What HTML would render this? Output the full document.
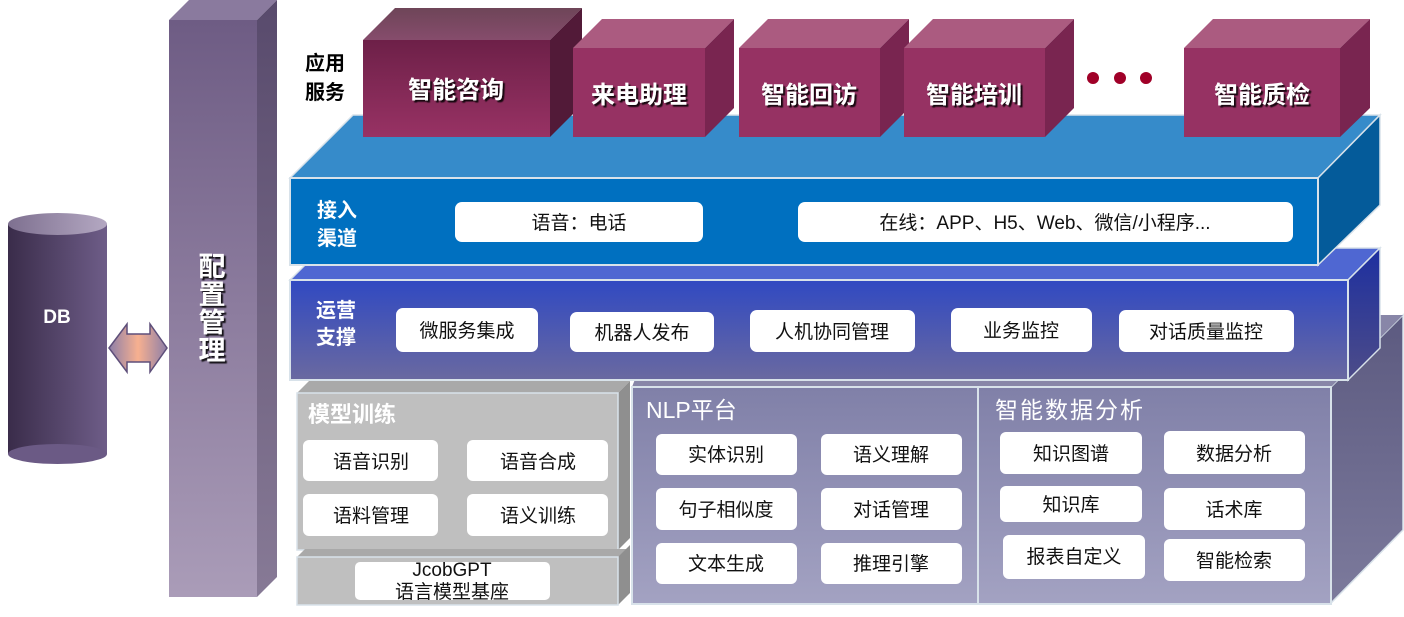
<!DOCTYPE html>
<html><head><meta charset="utf-8"><style>
html,body{margin:0;padding:0;background:#fff;}
svg{display:block;}
text{font-family:"Liberation Sans","Noto Sans CJK SC",sans-serif;}
.bx{fill:#fff;}
.t{font-size:19px;fill:#111;text-anchor:middle;}
.ap{font-size:24px;font-weight:bold;fill:#fff;text-anchor:middle;filter:url(#sh);}
.lb{font-size:20px;font-weight:bold;fill:#fff;}
.ttl{font-size:23px;fill:#fff;}
</style></head><body>
<svg width="1404" height="617" viewBox="0 0 1404 617" xmlns="http://www.w3.org/2000/svg">
<defs>
<filter id="sh" x="-10%" y="-10%" width="130%" height="140%"><feDropShadow dx="2" dy="2" stdDeviation="0.6" flood-color="#000" flood-opacity="0.85"/></filter>
<linearGradient id="pil" x1="0" y1="0" x2="0" y2="1"><stop offset="0" stop-color="#6e5c84"/><stop offset="1" stop-color="#aa9cb8"/></linearGradient>
<linearGradient id="pils" x1="0" y1="0" x2="0" y2="1"><stop offset="0" stop-color="#584a6c"/><stop offset="1" stop-color="#877a96"/></linearGradient>
<linearGradient id="db" x1="0" y1="0" x2="1" y2="0"><stop offset="0" stop-color="#3a2c4a"/><stop offset="1" stop-color="#6e5d88"/></linearGradient>
<linearGradient id="dbt" x1="0" y1="0" x2="1" y2="0"><stop offset="0" stop-color="#7e7090"/><stop offset="1" stop-color="#b4a8c2"/></linearGradient>
<linearGradient id="arr" x1="0" y1="0" x2="1" y2="0"><stop offset="0" stop-color="#8d7fa8"/><stop offset="0.5" stop-color="#f7b090"/><stop offset="1" stop-color="#8d7fa8"/></linearGradient>
<linearGradient id="app1" x1="0" y1="0" x2="0" y2="1"><stop offset="0" stop-color="#6d2048"/><stop offset="1" stop-color="#983264"/></linearGradient>
<linearGradient id="app1t" x1="0" y1="0" x2="0" y2="1"><stop offset="0" stop-color="#6e4558"/><stop offset="1" stop-color="#864c6c"/></linearGradient>
<linearGradient id="pur" x1="0" y1="0" x2="0" y2="1"><stop offset="0" stop-color="#3049c2"/><stop offset="1" stop-color="#6a69a0"/></linearGradient>
<linearGradient id="purs" x1="0" y1="0" x2="0" y2="1"><stop offset="0" stop-color="#1d2fa0"/><stop offset="1" stop-color="#4d4c88"/></linearGradient>
<linearGradient id="bot" x1="0" y1="0" x2="0" y2="1"><stop offset="0" stop-color="#8080a8"/><stop offset="1" stop-color="#a3a2c2"/></linearGradient>
<linearGradient id="bots" x1="0" y1="0" x2="0" y2="1"><stop offset="0" stop-color="#5c5a80"/><stop offset="1" stop-color="#7c7a9c"/></linearGradient>
</defs>

<!-- DB -->
<rect x="8" y="224" width="99" height="230" fill="url(#db)"/>
<ellipse cx="57.5" cy="454" rx="49.5" ry="10" fill="#6b5a85"/>
<ellipse cx="57.5" cy="224" rx="49.5" ry="11" fill="url(#dbt)"/>
<text x="57" y="323" font-size="19" font-weight="bold" fill="#fff" text-anchor="middle">DB</text>

<!-- arrow -->
<polygon points="109,348 127,324 127,334 150,334 150,324 167,348 150,372 150,362 127,362 127,372" fill="url(#arr)" stroke="#5e4f7a" stroke-width="1.5"/>

<!-- pillar -->
<polygon points="169,20 189,0 277,0 257,20" fill="#8a7a9e"/>
<polygon points="257,20 277,0 277,577 257,597" fill="url(#pils)"/>
<rect x="169" y="20" width="88" height="577" fill="url(#pil)"/>
<g font-size="27" font-weight="bold" fill="#fff" text-anchor="middle" filter="url(#sh)">
<text x="212" y="276">配</text><text x="212" y="304">置</text><text x="212" y="332">管</text><text x="212" y="360">理</text>
</g>

<!-- bottom big purple -->
<polygon points="1331,387 1403,315 1403,530 1331,603" fill="url(#bots)" stroke="#d8e2ea" stroke-width="1.5"/>
<polygon points="632,387 660,315 1403,315 1331,387" fill="#8886a8"/>
<rect x="632" y="387" width="699" height="217" fill="url(#bot)" stroke="#d8e2ea" stroke-width="2"/>
<line x1="978" y1="387" x2="978" y2="604" stroke="#d8e2ea" stroke-width="2"/>
<text x="646" y="418" class="ttl">NLP平台</text>
<text x="995" y="418" class="ttl" letter-spacing="2">智能数据分析</text>
<g>
<rect class="bx" x="656" y="434" width="141" height="41" rx="6"/><text class="t" x="726" y="461">实体识别</text>
<rect class="bx" x="821" y="434" width="141" height="41" rx="6"/><text class="t" x="891" y="461">语义理解</text>
<rect class="bx" x="656" y="488" width="141" height="42" rx="6"/><text class="t" x="726" y="516">句子相似度</text>
<rect class="bx" x="821" y="488" width="141" height="42" rx="6"/><text class="t" x="891" y="516">对话管理</text>
<rect class="bx" x="656" y="543" width="141" height="41" rx="6"/><text class="t" x="726" y="570">文本生成</text>
<rect class="bx" x="821" y="543" width="141" height="41" rx="6"/><text class="t" x="891" y="570">推理引擎</text>
<rect class="bx" x="1000" y="432" width="142" height="42" rx="6"/><text class="t" x="1071" y="460">知识图谱</text>
<rect class="bx" x="1164" y="431" width="141" height="43" rx="6"/><text class="t" x="1234" y="460">数据分析</text>
<rect class="bx" x="1000" y="486" width="142" height="36" rx="6"/><text class="t" x="1071" y="511">知识库</text>
<rect class="bx" x="1164" y="488" width="141" height="42" rx="6"/><text class="t" x="1234" y="516">话术库</text>
<rect class="bx" x="1003" y="535" width="142" height="44" rx="6"/><text class="t" x="1074" y="563">报表自定义</text>
<rect class="bx" x="1164" y="539" width="141" height="42" rx="6"/><text class="t" x="1234" y="567">智能检索</text>
</g>

<!-- gray model training -->
<polygon points="297,393 309,381 630,381 618,393" fill="#a9a9a9"/>
<polygon points="618,393 630,381 630,538 618,550" fill="#8f8f8f"/>
<rect x="297" y="393" width="321" height="157" fill="#bfbfbf" stroke="#d8e2ea" stroke-width="1.5"/>
<text x="308" y="422" font-size="22" font-weight="bold" fill="#fff">模型训练</text>
<rect class="bx" x="303" y="440" width="135" height="41" rx="6"/><text class="t" x="371" y="468">语音识别</text>
<rect class="bx" x="467" y="440" width="141" height="41" rx="6"/><text class="t" x="538" y="468">语音合成</text>
<rect class="bx" x="303" y="494" width="135" height="42" rx="6"/><text class="t" x="371" y="522">语料管理</text>
<rect class="bx" x="467" y="494" width="141" height="42" rx="6"/><text class="t" x="538" y="522">语义训练</text>
<polygon points="297,557 305,549 630,549 618,557" fill="#a9a9a9"/>
<polygon points="618,557 630,545 630,593 618,605" fill="#8f8f8f"/>
<rect x="297" y="557" width="321" height="48" fill="#bfbfbf" stroke="#d8e2ea" stroke-width="1.5"/>
<rect class="bx" x="355" y="562" width="195" height="38" rx="5"/>
<text class="t" x="452" y="576" font-size="18">JcobGPT</text>
<text class="t" x="452" y="598" font-size="18">语言模型基座</text>

<!-- purple ops layer -->
<polygon points="290,280 322,248 1380,248 1348,280" fill="#4f67d2" stroke="#d8e2ea" stroke-width="1.5"/>
<polygon points="1348,280 1380,248 1380,348 1348,380" fill="url(#purs)" stroke="#d8e2ea" stroke-width="1.5"/>
<rect x="290" y="280" width="1058" height="100" fill="url(#pur)" stroke="#d8e2ea" stroke-width="2"/>
<text class="lb" x="316" y="317">运营</text><text class="lb" x="316" y="344">支撑</text>
<rect class="bx" x="396" y="308" width="142" height="44" rx="7"/><text class="t" x="467" y="337">微服务集成</text>
<rect class="bx" x="570" y="312" width="144" height="40" rx="7"/><text class="t" x="642" y="339">机器人发布</text>
<rect class="bx" x="750" y="310" width="165" height="42" rx="7"/><text class="t" x="832" y="338">人机协同管理</text>
<rect class="bx" x="951" y="308" width="141" height="44" rx="7"/><text class="t" x="1021" y="337">业务监控</text>
<rect class="bx" x="1119" y="310" width="175" height="42" rx="7"/><text class="t" x="1206" y="338">对话质量监控</text>

<!-- blue access layer -->
<polygon points="290,178 353,115 1380,115 1318,178" fill="#368bca" stroke="#d8e2ea" stroke-width="1.5"/>
<polygon points="1318,178 1380,115 1380,205 1318,265" fill="#045b9a" stroke="#d8e2ea" stroke-width="1.5"/>
<rect x="290" y="178" width="1028" height="87" fill="#0070c0" stroke="#d8e2ea" stroke-width="2"/>
<text class="lb" x="317" y="217">接入</text><text class="lb" x="317" y="245">渠道</text>
<rect class="bx" x="455" y="202" width="248" height="40" rx="7"/><text class="t" x="579" y="229">语音：电话</text>
<rect class="bx" x="798" y="202" width="495" height="40" rx="7"/><text class="t" x="1045" y="229">在线：APP、H5、Web、微信/小程序...</text>

<!-- application boxes -->
<text x="305" y="70" font-size="20" font-weight="bold" fill="#000">应用</text>
<text x="305" y="99" font-size="20" font-weight="bold" fill="#000">服务</text>
<polygon points="363,40 395,8 582,8 550,40" fill="url(#app1t)"/>
<polygon points="550,40 582,8 582,105 550,137" fill="#521a38"/>
<rect x="363" y="40" width="187" height="97" fill="url(#app1)"/>
<text class="ap" x="456" y="98">智能咨询</text>
<g>
<polygon points="573,48 602,19 734,19 705,48" fill="#ab5b80"/>
<polygon points="705,48 734,19 734,108 705,137" fill="#792550"/>
<rect x="573" y="48" width="132" height="89" fill="#963263"/>
<text class="ap" x="639" y="103">来电助理</text>
<polygon points="739,48 768,19 909,19 880,48" fill="#ab5b80"/>
<polygon points="880,48 909,19 909,108 880,137" fill="#792550"/>
<rect x="739" y="48" width="141" height="89" fill="#963263"/>
<text class="ap" x="809" y="103">智能回访</text>
<polygon points="904,48 933,19 1074,19 1045,48" fill="#ab5b80"/>
<polygon points="1045,48 1074,19 1074,108 1045,137" fill="#792550"/>
<rect x="904" y="48" width="141" height="89" fill="#963263"/>
<text class="ap" x="974" y="103">智能培训</text>
<polygon points="1184,48 1213,19 1370,19 1340,48" fill="#ab5b80"/>
<polygon points="1340,48 1370,19 1370,108 1340,137" fill="#792550"/>
<rect x="1184" y="48" width="156" height="89" fill="#963263"/>
<text class="ap" x="1262" y="103">智能质检</text>
</g>
<circle cx="1093" cy="78" r="6" fill="#a00028"/>
<circle cx="1120" cy="78" r="6" fill="#a00028"/>
<circle cx="1146" cy="78" r="6" fill="#a00028"/>
</svg>
</body></html>
